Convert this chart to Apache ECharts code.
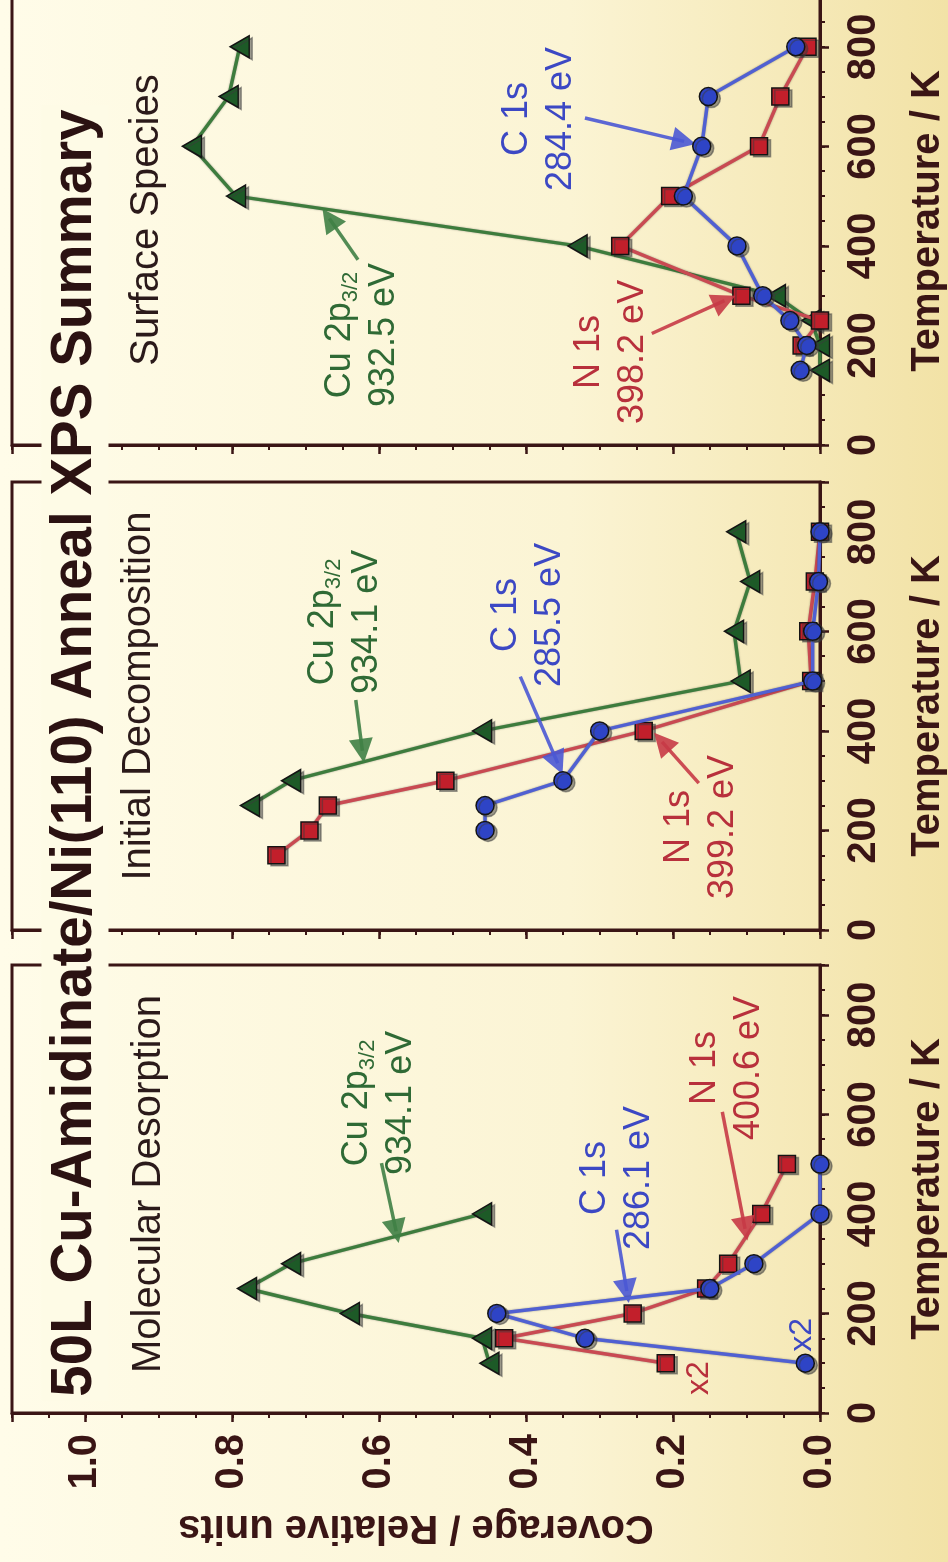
<!DOCTYPE html>
<html>
<head>
<meta charset="utf-8">
<title>50L Cu-Amidinate/Ni(110) Anneal XPS Summary</title>
<script src="https://cdn.jsdelivr.net/npm/echarts@6.0.0/dist/echarts.min.js"></script>
<style>
  html, body { margin: 0; padding: 0; background: #fbf5d6; }
  #chart { width: 948px; height: 1562px; }
</style>
</head>
<body>
<div id="chart"></div>
<script>
// The figure is printed turned a quarter: coverage runs right -> left, temperature bottom -> top.
// Panels listed top to bottom as they appear on the page.
const panelNames = ['Surface Species', 'Initial Decomposition', 'Molecular Desorption'];

// Surface Species
const surfCuTemp = [150, 200, 250, 300, 400, 500, 600, 700, 800];
const surfCu     = [0.0, 0.0, 0.012, 0.06, 0.33, 0.795, 0.855, 0.805, 0.79];
const surfNTemp  = [200, 250, 300, 400, 500, 600, 700, 800];
const surfN      = [0.025, 0.0, 0.107, 0.272, 0.204, 0.083, 0.054, 0.017];
const surfCTemp  = [150, 200, 250, 300, 400, 500, 600, 700, 800];
const surfC      = [0.027, 0.018, 0.041, 0.078, 0.113, 0.186, 0.161, 0.152, 0.033];

// Initial Decomposition
const initCuTemp = [250, 300, 400, 500, 600, 700, 800];
const initCu     = [0.776, 0.72, 0.46, 0.108, 0.117, 0.095, 0.114];
const initNTemp  = [150, 200, 250, 300, 400, 500, 600, 700, 800];
const initN      = [0.74, 0.695, 0.67, 0.51, 0.24, 0.012, 0.016, 0.007, 0.0];
const initCTemp  = [200, 250, 300, 400, 500, 600, 700, 800];
const initC      = [0.456, 0.456, 0.35, 0.30, 0.01, 0.01, 0.002, 0.0];

// Molecular Desorption
const molCuTemp = [100, 150, 200, 250, 300, 400];
const molCu     = [0.45, 0.46, 0.64, 0.78, 0.72, 0.46];
const molNTemp  = [100, 150, 200, 250, 300, 400, 500];
const molN      = [0.21, 0.43, 0.255, 0.155, 0.125, 0.08, 0.045];
const molCTemp  = [100, 150, 200, 250, 300, 400, 500];
const molC      = [0.02, 0.32, 0.44, 0.15, 0.09, 0.0, 0.0];

// axis ticks
const coverageTicks = [0, 0.2, 0.4, 0.6, 0.8, 1.0];
const tempTicks = [0, 200, 400, 600, 800];

// labels and arrows, placed in data units (coverage, K)
const notes = [
  { panel: 0, kind: 'c',  at: [0.385, 655], text: 'C 1s\n284.4 eV' },
  { panel: 0, kind: 'n',  at: [0.287, 187], text: 'N 1s\n398.2 eV' },
  { panel: 0, kind: 'cu', at: [0.626, 221], text: '{t|Cu 2p}{s|3/2}\n{t|932.5 eV}' },
  { panel: 1, kind: 'cu', at: [0.649, 619], text: '{t|Cu 2p}{s|3/2}\n{t|934.1 eV}' },
  { panel: 1, kind: 'c',  at: [0.400, 633], text: 'C 1s\n285.5 eV' },
  { panel: 1, kind: 'n',  at: [0.165, 207], text: 'N 1s\n399.2 eV' },
  { panel: 2, kind: 'cu', at: [0.603, 623], text: '{t|Cu 2p}{s|3/2}\n{t|934.1 eV}' },
  { panel: 2, kind: 'c',  at: [0.279, 472], text: 'C 1s\n286.1 eV' },
  { panel: 2, kind: 'n',  at: [0.129, 693], text: 'N 1s\n400.6 eV' },
  { panel: 2, kind: 'n',  at: [0.167, 70],  text: 'x2', small: true },
  { panel: 2, kind: 'c',  at: [0.027, 157], text: 'x2', small: true }
];
const subtitleAt = [[0.919, 452], [0.93, 470], [0.916, 460]];

const arrows = [
  { panel: 0, kind: 'c',  from: [0.320, 657], to: [0.185, 610] },
  { panel: 0, kind: 'n',  from: [0.229, 224], to: [0.13, 290] },
  { panel: 0, kind: 'cu', from: [0.629, 372], to: [0.668, 455] },
  { panel: 1, kind: 'cu', from: [0.632, 462], to: [0.623, 360] },
  { panel: 1, kind: 'c',  from: [0.408, 509], to: [0.357, 335] },
  { panel: 1, kind: 'n',  from: [0.165, 295], to: [0.215, 378] },
  { panel: 2, kind: 'cu', from: [0.597, 502], to: [0.577, 365] },
  { panel: 2, kind: 'c',  from: [0.277, 368], to: [0.263, 245] },
  { panel: 2, kind: 'n',  from: [0.133, 605], to: [0.102, 370] }
];

const INK = '#3a1515';
const FONT = '"Liberation Sans", Arial, Helvetica, sans-serif';
const COLORS = {
  cu: { line: '#3d7c3d', fill: '#1d5a27', text: '#2f6a35', arrow: '#3f7f45' },
  n:  { line: '#c94a52', fill: '#c21f2b', text: '#b8303c', arrow: '#c63a46' },
  c:  { line: '#5060d2', fill: '#2e44c6', text: '#3c48c4', arrow: '#4a58d4' }
};
const SYMBOLS = {
  cu: { symbol: 'triangle', size: [22, 19], rotate: 90 },
  n:  { symbol: 'rect', size: 17, rotate: 0 },
  c:  { symbol: 'circle', size: 18, rotate: 0 }
};

const panelData = [
  { cu: [surfCuTemp, surfCu], n: [surfNTemp, surfN], c: [surfCTemp, surfC] },
  { cu: [initCuTemp, initCu], n: [initNTemp, initN], c: [initCTemp, initC] },
  { cu: [molCuTemp, molCu],   n: [molNTemp, molN],   c: [molCTemp, molC] }
];

const gridTops = [-3, 482, 965];
const chart = echarts.init(document.getElementById('chart'));

const grid = [], xAxis = [], yAxis = [], series = [];

gridTops.forEach((top, p) => {
  grid.push({
    left: 12, right: 128, top: top, height: 448,
    containLabel: false, outerBoundsMode: 'none',
    show: true, borderColor: INK, borderWidth: 3, backgroundColor: 'transparent'
  });

  // coverage: major ticks + labels
  xAxis.push({
    gridIndex: p, type: 'value', min: 0, max: 1.1, interval: 0.2, inverse: true, position: 'bottom',
    axisLine: { show: true, onZero: false, lineStyle: { color: INK, width: 3 } },
    axisTick: { show: true, length: 9, lineStyle: { color: INK, width: 2.5 } },
    axisLabel: {
      show: p === 2, rotate: 90, margin: 21, color: INK,
      fontFamily: FONT, fontWeight: 'bold', fontSize: 40,
      formatter: v => coverageTicks.some(t => Math.abs(t - v) < 1e-6) ? v.toFixed(1) : ''
    },
    splitLine: { show: false },
    name: p === 2 ? 'Coverage / Relative units' : '',
    nameLocation: 'middle', nameRotate: 180, nameGap: 94,
    nameTextStyle: { color: INK, fontFamily: FONT, fontWeight: 'bold', fontSize: 40 }
  });
  // coverage: minor ticks
  xAxis.push({
    gridIndex: p, type: 'value', min: 0, max: 1.1, interval: 0.05, inverse: true, position: 'bottom',
    axisLine: { show: false, onZero: false },
    axisTick: { show: true, length: 5, lineStyle: { color: INK, width: 2 } },
    axisLabel: { show: false }, splitLine: { show: false }
  });

  // temperature: major ticks + labels
  yAxis.push({
    gridIndex: p, type: 'value', min: 0, max: 900, interval: 200, position: 'right',
    axisLine: { show: true, onZero: false, lineStyle: { color: INK, width: 3 } },
    axisTick: { show: true, length: 9, lineStyle: { color: INK, width: 2.5 } },
    axisLabel: {
      rotate: 90, margin: 24, color: INK,
      fontFamily: FONT, fontWeight: 'bold', fontSize: 40,
      formatter: v => tempTicks.includes(v) ? String(v) : ''
    },
    splitLine: { show: false },
    name: 'Temperature / K', nameLocation: 'middle', nameRotate: 90, nameGap: 88,
    nameTextStyle: { color: INK, fontFamily: FONT, fontWeight: 'bold', fontSize: 40 }
  });
  // temperature: minor ticks
  yAxis.push({
    gridIndex: p, type: 'value', min: 0, max: 900, interval: 50, position: 'right',
    axisLine: { show: false, onZero: false },
    axisTick: { show: true, length: 5, lineStyle: { color: INK, width: 2 } },
    axisLabel: { show: false }, splitLine: { show: false }
  });

  // draw order: Cu under N under C
  ['cu', 'n', 'c'].forEach((kind, k) => {
    const [temps, vals] = panelData[p][kind];
    const col = COLORS[kind], sym = SYMBOLS[kind];
    series.push({
      type: 'line',
      xAxisIndex: 2 * p, yAxisIndex: 2 * p,
      data: temps.map((t, i) => [vals[i], t]),
      symbol: sym.symbol, symbolSize: sym.size, symbolRotate: sym.rotate,
      clip: false, silent: true, animation: false, z: 3 + k,
      lineStyle: { color: col.line, width: 3.5, shadowColor: 'rgba(0,0,0,0.35)', shadowBlur: 2 },
      itemStyle: {
        color: col.fill, borderColor: '#141414', borderWidth: 1.5, opacity: 1,
        shadowColor: 'rgba(60,60,60,0.5)', shadowOffsetX: 3, shadowOffsetY: 2
      },
      markLine: {
        silent: true, animation: false,
        symbol: ['none', 'triangle'], symbolSize: 24,
        label: { show: false },
        lineStyle: { color: col.arrow, width: 3.5, type: 'solid', opacity: 0.9 },
        data: arrows.filter(a => a.panel === p && a.kind === kind)
                    .map(a => [{ coord: a.from }, { coord: a.to }])
      }
    });
  });
});

chart.setOption({
  animation: false,
  backgroundColor: new echarts.graphic.LinearGradient(0, 0, 1, 0, [
    { offset: 0, color: '#fffce9' },
    { offset: 0.6, color: '#fbf4d4' },
    { offset: 1, color: '#f2e2a6' }
  ]),
  grid, xAxis, yAxis, series
});

// texts: placed from data units through the axes, then turned a quarter like the rest
function toPx(p, at) {
  return chart.convertToPixel({ xAxisIndex: 2 * p, yAxisIndex: 2 * p }, at);
}

const graphic = [];
notes.forEach(n => {
  const [x, y] = toPx(n.panel, n.at);
  const size = n.small ? 32 : 36;
  graphic.push({
    type: 'text', x: x + 2, y: y, rotation: Math.PI / 2, z: 20, silent: true,
    style: {
      text: n.text, fill: COLORS[n.kind].text, fontFamily: FONT, fontSize: size,
      lineHeight: 44, align: 'center', verticalAlign: 'middle',
      rich: {
        t: { fontSize: size, fontFamily: FONT, lineHeight: 44, fill: COLORS[n.kind].text },
        s: { fontSize: 22, fontFamily: FONT, lineHeight: 44, fill: COLORS[n.kind].text, verticalAlign: 'bottom', padding: [14, 0, 0, 0] }
      }
    }
  });
});
panelNames.forEach((name, p) => {
  const [x, y] = toPx(p, subtitleAt[p]);
  graphic.push({
    type: 'text', x: x + 2, y: y, rotation: Math.PI / 2, z: 20, silent: true,
    style: {
      text: name, fill: '#2b1a1a', fontFamily: FONT, fontSize: 40,
      align: 'center', verticalAlign: 'middle'
    }
  });
});
// main title, with a plate that hides the frame lines it crosses
graphic.push({
  type: 'text', x: 75, y: 753, rotation: Math.PI / 2, z: 30, silent: true,
  style: {
    text: '50L Cu-Amidinate/Ni(110) Anneal XPS Summary',
    fill: '#2b1212', fontFamily: FONT, fontWeight: 'bold', fontSize: 56.5,
    align: 'center', verticalAlign: 'middle',
    backgroundColor: '#fefbe6', padding: [5, 4, 5, 4]
  }
});

chart.setOption({ graphic });
</script>
</body>
</html>
